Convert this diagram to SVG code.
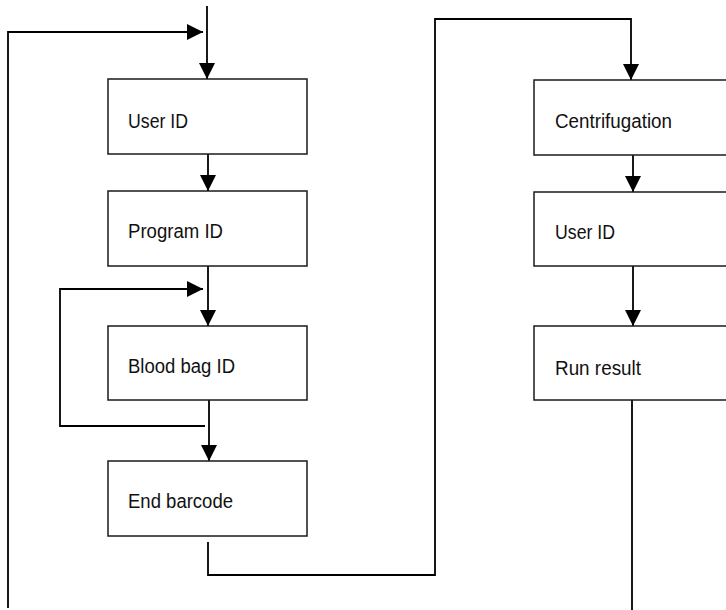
<svg xmlns="http://www.w3.org/2000/svg" width="726" height="610" viewBox="0 0 726 610">
<style>
.box{fill:#fff;stroke:#1a1a1a;stroke-width:1.5}
.lbl{font-family:"Liberation Sans",Arial,sans-serif;font-size:20px;fill:#111}
.ln{fill:none;stroke:#000;stroke-width:1.8}
</style>
<defs>
<marker id="ah" markerUnits="userSpaceOnUse" markerWidth="16" markerHeight="16" viewBox="0 0 16 16" refX="16" refY="8" orient="auto">
<path d="M0,0 L16,8 L0,16 Z" fill="#000"/>
</marker>
</defs>
<g id="connectors">
<path class="ln" d="M207,6 V79" marker-end="url(#ah)"/>
<path class="ln" d="M8,608 V32 H203" marker-end="url(#ah)"/>
<path class="ln" d="M208,154 V191" marker-end="url(#ah)"/>
<path class="ln" d="M208,266 V326" marker-end="url(#ah)"/>
<path class="ln" d="M205,426 H60 V289 H203" marker-end="url(#ah)"/>
<path class="ln" d="M209,400 V461" marker-end="url(#ah)"/>
<path class="ln" d="M208,542 V575 H435 V19 H631 V80" marker-end="url(#ah)"/>
<path class="ln" d="M633,155 V192" marker-end="url(#ah)"/>
<path class="ln" d="M633,266 V326" marker-end="url(#ah)"/>
<path class="ln" d="M632,400 V610"/>
</g>
<g id="n-userid"><rect class="box" x="108" y="79" width="199" height="75"/><text class="lbl" x="128" y="128" textLength="60" lengthAdjust="spacingAndGlyphs">User ID</text></g>
<g id="n-programid"><rect class="box" x="108" y="191" width="199" height="75"/><text class="lbl" x="128" y="238" textLength="95" lengthAdjust="spacingAndGlyphs">Program ID</text></g>
<g id="n-bloodbag"><rect class="box" x="108" y="326" width="199" height="74"/><text class="lbl" x="128" y="373" textLength="107" lengthAdjust="spacingAndGlyphs">Blood bag ID</text></g>
<g id="n-endbarcode"><rect class="box" x="108" y="461" width="199" height="75"/><text class="lbl" x="128" y="508" textLength="105" lengthAdjust="spacingAndGlyphs">End barcode</text></g>
<g id="n-centrifugation"><rect class="box" x="534" y="80" width="200" height="75"/><text class="lbl" x="555" y="128" textLength="117" lengthAdjust="spacingAndGlyphs">Centrifugation</text></g>
<g id="n-userid2"><rect class="box" x="534" y="192" width="200" height="74"/><text class="lbl" x="555" y="239" textLength="60" lengthAdjust="spacingAndGlyphs">User ID</text></g>
<g id="n-runresult"><rect class="box" x="534" y="326" width="200" height="74"/><text class="lbl" x="555" y="375" textLength="86" lengthAdjust="spacingAndGlyphs">Run result</text></g>
</svg>
